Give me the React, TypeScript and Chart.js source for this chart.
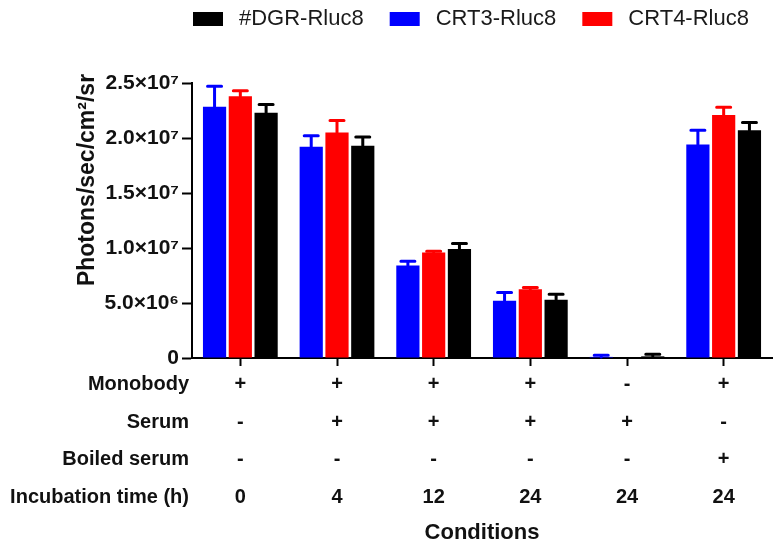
import React, { useEffect, useRef } from 'react';
import { Chart, registerables } from 'chart.js';

Chart.register(...registerables);

const FONT = "'Liberation Sans', Arial, Helvetica, sans-serif";

// ---- data ----
const conditions = ['C1', 'C2', 'C3', 'C4', 'C5', 'C6'];
const rowLabels = ['Monobody', 'Serum', 'Boiled serum', 'Incubation time (h)'];
const monobodyRow = ['+', '+', '+', '+', '-', '+'];
const serumRow = ['-', '+', '+', '+', '+', '-'];
const boiledSerumRow = ['-', '-', '-', '-', '-', '+'];
const incubationRow = ['0', '4', '12', '24', '24', '24'];

const crt3Values = [22.85e6, 19.2e6, 8.4e6, 5.2e6, 0.1e6, 19.4e6];
const crt3Errors = [1.85e6, 1.0e6, 0.4e6, 0.75e6, 0.15e6, 1.3e6];
const crt4Values = [23.8e6, 20.5e6, 9.6e6, 6.25e6, 0, 22.1e6];
const crt4Errors = [0.5e6, 1.1e6, 0.1e6, 0.15e6, 0, 0.7e6];
const dgrValues = [22.3e6, 19.3e6, 9.9e6, 5.3e6, 0.15e6, 20.7e6];
const dgrErrors = [0.75e6, 0.8e6, 0.5e6, 0.5e6, 0.2e6, 0.7e6];

const yTickValues = [0, 5e6, 10e6, 15e6, 20e6, 25e6];
const yTickLabels = ['0', '5.0×10⁶', '1.0×10⁷', '1.5×10⁷', '2.0×10⁷', '2.5×10⁷'];
const yTitle = 'Photons/sec/cm²/sr';
const xTitle = 'Conditions';

// legend order differs from bar order
const legendOrder = ['#DGR-Rluc8', 'CRT3-Rluc8', 'CRT4-Rluc8'];

const LINE_H = 37.5;
const X_TICK_LEN = 8;

const errorBarPlugin = {
  id: 'errorBars',
  afterDatasetsDraw(chart: any) {
    const ctx = chart.ctx;
    const yScale = chart.scales.y;
    chart.data.datasets.forEach((ds: any, i: number) => {
      const meta = chart.getDatasetMeta(i);
      const errs: number[] = ds.errors;
      meta.data.forEach((el: any, j: number) => {
        const v = ds.data[j];
        const e = errs[j];
        if (!e) return;
        const yTop = yScale.getPixelForValue(v + e);
        const yBar = el.y;
        ctx.save();
        ctx.strokeStyle = ds.backgroundColor;
        ctx.lineWidth = 3;
        ctx.lineCap = 'round';
        ctx.beginPath();
        ctx.moveTo(el.x, yBar);
        ctx.lineTo(el.x, yTop);
        ctx.moveTo(el.x - 7, yTop);
        ctx.lineTo(el.x + 7, yTop);
        ctx.stroke();
        ctx.restore();
      });
    });
  },
};

const decorPlugin = {
  id: 'decor',
  afterDraw(chart: any) {
    const ctx = chart.ctx;
    const xScale = chart.scales.x;
    // legend
    ctx.save();
    ctx.font = `22px ${FONT}`;
    ctx.textBaseline = 'middle';
    ctx.textAlign = 'left';
    let x = 193;
    legendOrder.forEach((name) => {
      const ds = chart.data.datasets.find((d: any) => d.label === name);
      ctx.fillStyle = ds.backgroundColor;
      ctx.fillRect(x, 12, 30, 14);
      ctx.fillStyle = '#1a1a1a';
      ctx.fillText(name, x + 46, 19);
      x += 46 + ctx.measureText(name).width + 26;
    });
    ctx.restore();

    // y title
    ctx.save();
    ctx.translate(94, 180);
    ctx.rotate(-Math.PI / 2);
    ctx.font = `bold 23px ${FONT}`;
    ctx.fillStyle = '#111';
    ctx.textAlign = 'center';
    ctx.textBaseline = 'alphabetic';
    ctx.fillText(yTitle, 0, 0);
    ctx.restore();

    // row labels of the condition table
    ctx.save();
    ctx.font = `bold 20px ${FONT}`;
    ctx.fillStyle = '#111';
    ctx.textAlign = 'right';
    ctx.textBaseline = 'middle';
    const top = xScale.top + X_TICK_LEN + 0;
    rowLabels.forEach((lab, i) => {
      ctx.fillText(lab, 189, top + LINE_H * (i + 0.5));
    });
    ctx.restore();
  },
};

export default function App() {
  const ref = useRef<HTMLCanvasElement | null>(null);

  useEffect(() => {
    if (!ref.current) return;
    const labels = conditions.map((_, i) => [
      monobodyRow[i],
      serumRow[i],
      boiledSerumRow[i],
      incubationRow[i],
    ]);
    const chart = new Chart(ref.current, {
      type: 'bar',
      data: {
        labels,
        datasets: [
          { label: 'CRT3-Rluc8', data: crt3Values, errors: crt3Errors, backgroundColor: '#0000ff' } as any,
          { label: 'CRT4-Rluc8', data: crt4Values, errors: crt4Errors, backgroundColor: '#ff0000' } as any,
          { label: '#DGR-Rluc8', data: dgrValues, errors: dgrErrors, backgroundColor: '#000000' } as any,
        ],
      },
      options: {
        animation: false,
        responsive: false,
        devicePixelRatio: 1,
        layout: { padding: { top: 83, right: 12, left: 0, bottom: 0 } },
        datasets: { bar: { categoryPercentage: 0.8, barPercentage: 0.9, borderWidth: 0 } },
        plugins: {
          legend: { display: false },
          tooltip: { enabled: false },
          title: { display: false },
        },
        scales: {
          x: {
            offset: true,
            grid: {
              display: true,
              offset: false,
              drawOnChartArea: false,
              drawTicks: true,
              tickLength: X_TICK_LEN,
              tickWidth: 2,
              tickColor: '#000',
            },
            border: { display: true, color: '#000', width: 2 },
            ticks: {
              autoSkip: false,
              maxRotation: 0,
              padding: 0,
              color: '#111',
              font: { family: FONT, size: 20, weight: 'bold', lineHeight: `${LINE_H}px` } as any,
            },
            title: {
              display: true,
              text: xTitle,
              color: '#111',
              font: { family: FONT, size: 22, weight: 'bold' },
              padding: { top: 0, bottom: 6 },
            },
            afterFit: (s: any) => {
              s.height = 194;
            },
          },
          y: {
            min: 0,
            max: 2.5e7,
            grid: {
              display: true,
              drawOnChartArea: false,
              drawTicks: true,
              tickLength: 10,
              tickWidth: 2,
              tickColor: '#000',
            },
            border: { display: true, color: '#000', width: 2 },
            ticks: {
              stepSize: 5e6,
              padding: 3,
              color: '#111',
              font: { family: FONT, size: 21, weight: 'bold' },
              callback: (v: any) => {
                const k = yTickValues.indexOf(Number(v));
                return k >= 0 ? yTickLabels[k] : '';
              },
            },
            afterFit: (s: any) => {
              s.width = 192;
            },
          },
        },
      },
      plugins: [errorBarPlugin, decorPlugin],
    });
    return () => chart.destroy();
  }, []);

  return (
    <div style={{ position: 'absolute', left: 0, top: 0, width: 784, height: 552, background: '#fff' }}>
      <canvas ref={ref} width={784} height={552} style={{ display: 'block', width: 784, height: 552 }} />
    </div>
  );
}
